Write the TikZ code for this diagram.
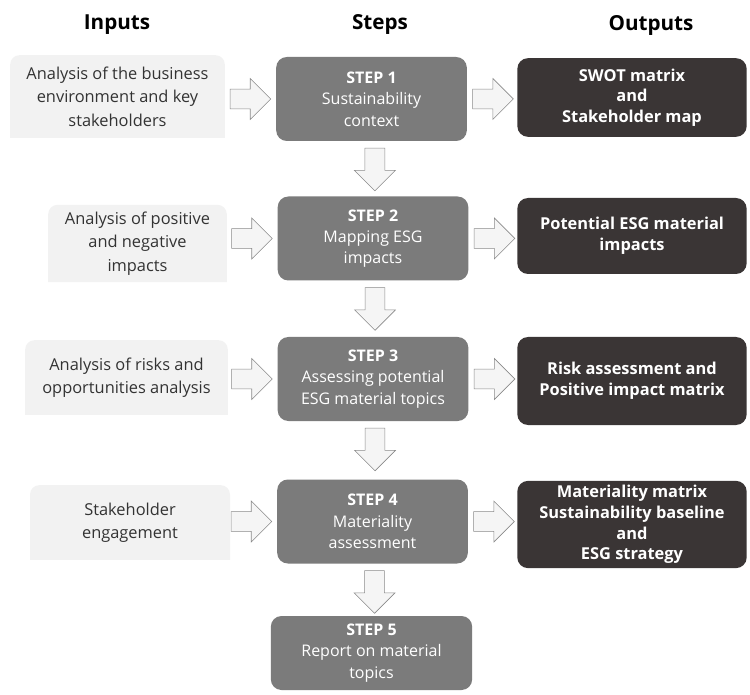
\documentclass[tikz,border=0pt]{standalone}
\usepackage{fontspec}
\setmainfont{Open Sans}
\usepackage{tikz}
\usetikzlibrary{shapes.arrows}
\usetikzlibrary{positioning}

\definecolor{inputgray}{HTML}{F2F2F2}
\definecolor{stepgray}{HTML}{7B7B7B}
\definecolor{outdark}{HTML}{3A3535}
\definecolor{arrowgray}{HTML}{8A8A8A}

\begin{document}
\begin{tikzpicture}[x=0.75pt, y=-0.75pt,
	head/.style={font=\fontsize{15.5}{18}\selectfont\bfseries},
	inbox/.style={rectangle, text=black!80, align=center, font=\fontsize{12.3}{17.5}\selectfont,
		path picture={\fill[inputgray, rounded corners=7pt] (path picture bounding box.south west) -- (path picture bounding box.north west) -- (path picture bounding box.north east) -- (path picture bounding box.south east);}},
	stepbox/.style={rectangle, rounded corners=8pt, fill=stepgray, text=white, align=center, font=\fontsize{12}{16}\selectfont, minimum width=143pt, minimum height=63pt},
	outbox/.style={rectangle, rounded corners=8pt, fill=outdark, text=white, align=center, font=\fontsize{12.3}{15.5}\selectfont\bfseries, minimum width=172pt},
	rarrow/.style={single arrow, draw=arrowgray, fill=white!96!black, inner sep=7.25pt, single arrow head extend=8pt, minimum height=30.5pt},
	darrow/.style={rarrow, shape border rotate=270, minimum height=32pt}]
		\useasboundingbox (0, 0) rectangle (750, 695);
		\node[head] (hin) at (117, 25) {Inputs};
		\node[head] (hstep) at (380, 25) {Steps};
		\node[head] (hout) at (651, 25) {Outputs};

		\node[inbox, minimum width=161pt, minimum height=62pt] (in1) at (117.5, 96.5) {Analysis of the business\\environment and key\\stakeholders};
		\node[inbox, minimum width=134pt, minimum height=58pt] (in2) at (137.5, 243.5) {Analysis of positive\\and negative\\impacts};
		\node[inbox, minimum width=152pt, minimum height=56pt] (in3) at (126.5, 377.5) {Analysis of risks and\\opportunities analysis};
		\node[inbox, minimum width=150pt, minimum height=56pt] (in4) at (130, 522.5) {Stakeholder\\engagement};

		\node[stepbox] (s1) at (371.5, 99) {\textbf{STEP 1}\\Sustainability\\context};
		\node[stepbox] (s2) at (373, 238.5) {\textbf{STEP 2}\\Mapping ESG\\impacts};
		\node[stepbox] (s3) at (373, 379) {\textbf{STEP 3}\\Assessing potential\\ESG material topics};
		\node[stepbox] (s4) at (372.5, 521.5) {\textbf{STEP 4}\\Materiality\\assessment};
		\node[stepbox, minimum width=151pt, minimum height=55.5pt] (s5) at (371.5, 653) {\textbf{STEP 5}\\Report on material\\topics};

		\node[outbox, minimum height=59pt] (o1) at (632, 97.5) {SWOT matrix\\and\\Stakeholder map};
		\node[outbox, minimum height=57pt] (o2) at (632, 236) {Potential ESG material\\impacts};
		\node[outbox, minimum height=66pt] (o3) at (632, 381) {Risk assessment and\\Positive impact matrix};
		\node[outbox, minimum height=65pt] (o4) at (632, 524.5) {Materiality matrix\\Sustainability baseline\\and\\ESG strategy};

		\node[rarrow, left=3.5pt of s1] (ai1) {};
		\node[rarrow, left=3.5pt of s2] (ai2) {};
		\node[rarrow, left=3.5pt of s3] (ai3) {};
		\node[rarrow, left=3.5pt of s4] (ai4) {};
		\node[rarrow, right=4pt of s1] (ao1) {};
		\node[rarrow, right=4pt of s2] (ao2) {};
		\node[rarrow, right=4pt of s3] (ao3) {};
		\node[rarrow, right=4pt of s4] (ao4) {};
		\node[darrow, below=5pt of s1, xshift=2.5pt] (d1) {};
		\node[darrow, below=5pt of s2, xshift=1.5pt] (d2) {};
		\node[darrow, below=5pt of s3, xshift=1.5pt] (d3) {};
		\node[darrow, below=5pt of s4, xshift=1.5pt] (d4) {};
	\end{tikzpicture}
\end{document}
